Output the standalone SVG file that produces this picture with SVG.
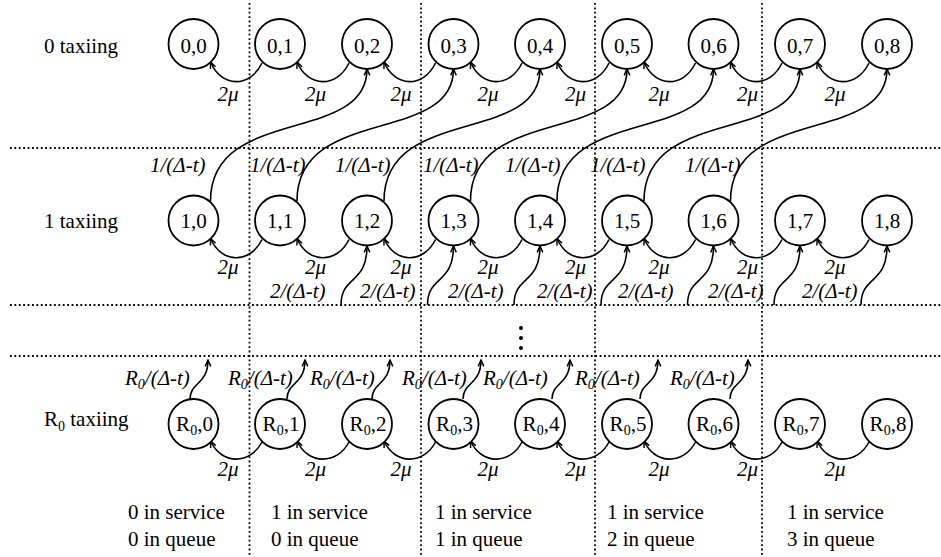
<svg xmlns="http://www.w3.org/2000/svg" width="941" height="557" viewBox="0 0 941 557" font-family="'Liberation Serif', 'Times New Roman', 'DejaVu Serif', serif">
<style>
.t{font-family:'Liberation Serif','Times New Roman','DejaVu Serif',serif;font-size:21px;fill:#000}
.i{font-style:italic}
.m{text-anchor:middle}
.node circle{fill:#fff;stroke:#000;stroke-width:1.8}
.c{fill:none;stroke:#000;stroke-width:1.6;marker-end:url(#ah)}
.d{fill:none;stroke:#000;stroke-width:1.8;stroke-dasharray:1.8 2.6}
</style>
<defs>
<marker id="ah" viewBox="0 0 10 10" refX="9" refY="5" markerWidth="8" markerHeight="8" orient="auto" markerUnits="userSpaceOnUse">
<path d="M1,1.5 L9,5 L1,8.5" fill="none" stroke="#000" stroke-width="1.8"/>
</marker>
</defs>
<rect width="941" height="557" fill="#fff"/>
<g id="grid">
<line class="d" x1="249.5" y1="3" x2="249.5" y2="557"/>
<line class="d" x1="421" y1="3" x2="421" y2="557"/>
<line class="d" x1="595" y1="3" x2="595" y2="557"/>
<line class="d" x1="762" y1="3" x2="762" y2="557"/>
<line class="d" x1="10" y1="148" x2="941" y2="148"/>
<line class="d" x1="10" y1="305" x2="941" y2="305"/>
<line class="d" x1="10" y1="356" x2="941" y2="356"/>
<circle cx="521" cy="328" r="2"/>
<circle cx="521" cy="338" r="2"/>
<circle cx="521" cy="348" r="2"/>
</g>
<g id="row-labels" class="t" font-family="'Liberation Serif', serif">
<text x="44" y="52.5">0 taxiing</text>
<text x="44" y="227.5">1 taxiing</text>
<text x="44" y="426">R<tspan font-size="14" dy="5">0</tspan><tspan dy="-5"> taxiing</tspan></text>
</g>
<g id="connectors">
<path class="c" d="M262,63 C250,88 221.5,88 210.5,62"/>
<path class="c" d="M349,63 C337,88 308,88 297,62"/>
<path class="c" d="M435.5,63 C423.5,88 395,88 384,62"/>
<path class="c" d="M522,63 C510,88 481.5,88 470.5,62"/>
<path class="c" d="M609,63 C597,88 568,88 557,62"/>
<path class="c" d="M695.5,63 C683.5,88 655,88 644,62"/>
<path class="c" d="M782,63 C770,88 741.5,88 730.5,62"/>
<path class="c" d="M869,63 C857,88 828,88 817,62"/>
<path class="c" d="M262,239.5 C250,264 221.5,264 210.5,238.5"/>
<path class="c" d="M349,239.5 C337,264 308,264 297,238.5"/>
<path class="c" d="M435.5,239.5 C423.5,264 395,264 384,238.5"/>
<path class="c" d="M522,239.5 C510,264 481.5,264 470.5,238.5"/>
<path class="c" d="M609,239.5 C597,264 568,264 557,238.5"/>
<path class="c" d="M695.5,239.5 C683.5,264 655,264 644,238.5"/>
<path class="c" d="M782,239.5 C770,264 741.5,264 730.5,238.5"/>
<path class="c" d="M869,239.5 C857,264 828,264 817,238.5"/>
<path class="c" d="M262,442 C250,465 221.5,465 210.5,441"/>
<path class="c" d="M349,442 C337,465 308,465 297,441"/>
<path class="c" d="M435.5,442 C423.5,465 395,465 384,441"/>
<path class="c" d="M522,442 C510,465 481.5,465 470.5,441"/>
<path class="c" d="M609,442 C597,465 568,465 557,441"/>
<path class="c" d="M695.5,442 C683.5,465 655,465 644,441"/>
<path class="c" d="M782,442 C770,465 741.5,465 730.5,441"/>
<path class="c" d="M869,442 C857,465 828,465 817,441"/>
<path class="c" d="M210.5,201 C210.5,105 367,145 367,69"/>
<path class="c" d="M297,201 C297,105 453.5,145 453.5,69"/>
<path class="c" d="M384,201 C384,105 540,145 540,69"/>
<path class="c" d="M470.5,201 C470.5,105 627,145 627,69"/>
<path class="c" d="M557,201 C557,105 713.5,145 713.5,69"/>
<path class="c" d="M644,201 C644,105 800,145 800,69"/>
<path class="c" d="M730.5,201 C730.5,105 887,145 887,69"/>
<path class="c" d="M341,305 C341,275 367,285 367,246"/>
<path class="c" d="M427.5,305 C427.5,275 453.5,285 453.5,246"/>
<path class="c" d="M514,305 C514,275 540,285 540,246"/>
<path class="c" d="M601,305 C601,275 627,285 627,246"/>
<path class="c" d="M687.5,305 C687.5,275 713.5,285 713.5,246"/>
<path class="c" d="M774,305 C774,275 800,285 800,246"/>
<path class="c" d="M861,305 C861,275 887,285 887,246"/>
<path class="c" d="M190,399 C190,382 208,385 208,360"/>
<path class="c" d="M287,399 C287,382 305,385 305,360"/>
<path class="c" d="M372,399 C372,382 390,385 390,360"/>
<path class="c" d="M463,399 C463,382 481,385 481,360"/>
<path class="c" d="M552,399 C552,382 570,385 570,360"/>
<path class="c" d="M640,399 C640,382 658,385 658,360"/>
<path class="c" d="M730,399 C730,382 748,385 748,360"/>
</g>
<g id="edge-labels" class="t i">
<g class="m">
<text x="228" y="100.5">2μ</text><text x="315.5" y="100.5">2μ</text><text x="401" y="100.5">2μ</text><text x="488" y="100.5">2μ</text><text x="575.5" y="100.5">2μ</text><text x="659" y="100.5">2μ</text><text x="747.5" y="100.5">2μ</text><text x="835" y="100.5">2μ</text>
<text x="228" y="274">2μ</text><text x="315.5" y="274">2μ</text><text x="401" y="274">2μ</text><text x="488" y="274">2μ</text><text x="575.5" y="274">2μ</text><text x="659" y="274">2μ</text><text x="747.5" y="274">2μ</text><text x="835" y="274">2μ</text>
<text x="228" y="476">2μ</text><text x="315.5" y="476">2μ</text><text x="401" y="476">2μ</text><text x="488" y="476">2μ</text><text x="575.5" y="476">2μ</text><text x="659" y="476">2μ</text><text x="747.5" y="476">2μ</text><text x="835" y="476">2μ</text>
</g>
<text x="150" y="172">1/(Δ-t)</text><text x="250" y="172">1/(Δ-t)</text><text x="335" y="172">1/(Δ-t)</text><text x="423" y="172">1/(Δ-t)</text><text x="505" y="172">1/(Δ-t)</text><text x="590" y="172">1/(Δ-t)</text><text x="685" y="172">1/(Δ-t)</text>
<text x="270" y="298">2/(Δ-t)</text><text x="360" y="298">2/(Δ-t)</text><text x="448" y="298">2/(Δ-t)</text><text x="537" y="298">2/(Δ-t)</text><text x="618" y="298">2/(Δ-t)</text><text x="708" y="298">2/(Δ-t)</text><text x="802" y="298">2/(Δ-t)</text>
<text x="125" y="385">R<tspan font-size="14" dy="4">0</tspan><tspan dy="-4">/(Δ-t)</tspan></text>
<text x="228" y="385">R<tspan font-size="14" dy="4">0</tspan><tspan dy="-4">/(Δ-t)</tspan></text>
<text x="310" y="385">R<tspan font-size="14" dy="4">0</tspan><tspan dy="-4">/(Δ-t)</tspan></text>
<text x="402" y="385">R<tspan font-size="14" dy="4">0</tspan><tspan dy="-4">/(Δ-t)</tspan></text>
<text x="483" y="385">R<tspan font-size="14" dy="4">0</tspan><tspan dy="-4">/(Δ-t)</tspan></text>
<text x="575" y="385">R<tspan font-size="14" dy="4">0</tspan><tspan dy="-4">/(Δ-t)</tspan></text>
<text x="670" y="385">R<tspan font-size="14" dy="4">0</tspan><tspan dy="-4">/(Δ-t)</tspan></text>
</g>
<g id="nodes" class="t">
<g id="n0_0" class="node"><circle cx="193.5" cy="44" r="25"/><text class="m" x="193.5" y="52.5">0,0</text></g>
<g id="n0_1" class="node"><circle cx="280" cy="44" r="25"/><text class="m" x="280" y="52.5">0,1</text></g>
<g id="n0_2" class="node"><circle cx="367" cy="44" r="25"/><text class="m" x="367" y="52.5">0,2</text></g>
<g id="n0_3" class="node"><circle cx="453.5" cy="44" r="25"/><text class="m" x="453.5" y="52.5">0,3</text></g>
<g id="n0_4" class="node"><circle cx="540" cy="44" r="25"/><text class="m" x="540" y="52.5">0,4</text></g>
<g id="n0_5" class="node"><circle cx="627" cy="44" r="25"/><text class="m" x="627" y="52.5">0,5</text></g>
<g id="n0_6" class="node"><circle cx="713.5" cy="44" r="25"/><text class="m" x="713.5" y="52.5">0,6</text></g>
<g id="n0_7" class="node"><circle cx="800" cy="44" r="25"/><text class="m" x="800" y="52.5">0,7</text></g>
<g id="n0_8" class="node"><circle cx="887" cy="44" r="25"/><text class="m" x="887" y="52.5">0,8</text></g>
<g id="n1_0" class="node"><circle cx="193.5" cy="220.5" r="25"/><text class="m" x="193.5" y="228">1,0</text></g>
<g id="n1_1" class="node"><circle cx="280" cy="220.5" r="25"/><text class="m" x="280" y="228">1,1</text></g>
<g id="n1_2" class="node"><circle cx="367" cy="220.5" r="25"/><text class="m" x="367" y="228">1,2</text></g>
<g id="n1_3" class="node"><circle cx="453.5" cy="220.5" r="25"/><text class="m" x="453.5" y="228">1,3</text></g>
<g id="n1_4" class="node"><circle cx="540" cy="220.5" r="25"/><text class="m" x="540" y="228">1,4</text></g>
<g id="n1_5" class="node"><circle cx="627" cy="220.5" r="25"/><text class="m" x="627" y="228">1,5</text></g>
<g id="n1_6" class="node"><circle cx="713.5" cy="220.5" r="25"/><text class="m" x="713.5" y="228">1,6</text></g>
<g id="n1_7" class="node"><circle cx="800" cy="220.5" r="25"/><text class="m" x="800" y="228">1,7</text></g>
<g id="n1_8" class="node"><circle cx="887" cy="220.5" r="25"/><text class="m" x="887" y="228">1,8</text></g>
<g id="nR_0" class="node"><circle cx="193.5" cy="424" r="25"/><text class="m" x="194.5" y="430.5">R<tspan font-size="14" dy="4">0</tspan><tspan dy="-4">,0</tspan></text></g>
<g id="nR_1" class="node"><circle cx="280" cy="424" r="25"/><text class="m" x="281" y="430.5">R<tspan font-size="14" dy="4">0</tspan><tspan dy="-4">,1</tspan></text></g>
<g id="nR_2" class="node"><circle cx="367" cy="424" r="25"/><text class="m" x="368" y="430.5">R<tspan font-size="14" dy="4">0</tspan><tspan dy="-4">,2</tspan></text></g>
<g id="nR_3" class="node"><circle cx="453.5" cy="424" r="25"/><text class="m" x="454.5" y="430.5">R<tspan font-size="14" dy="4">0</tspan><tspan dy="-4">,3</tspan></text></g>
<g id="nR_4" class="node"><circle cx="540" cy="424" r="25"/><text class="m" x="541" y="430.5">R<tspan font-size="14" dy="4">0</tspan><tspan dy="-4">,4</tspan></text></g>
<g id="nR_5" class="node"><circle cx="627" cy="424" r="25"/><text class="m" x="628" y="430.5">R<tspan font-size="14" dy="4">0</tspan><tspan dy="-4">,5</tspan></text></g>
<g id="nR_6" class="node"><circle cx="713.5" cy="424" r="25"/><text class="m" x="714.5" y="430.5">R<tspan font-size="14" dy="4">0</tspan><tspan dy="-4">,6</tspan></text></g>
<g id="nR_7" class="node"><circle cx="800" cy="424" r="25"/><text class="m" x="801" y="430.5">R<tspan font-size="14" dy="4">0</tspan><tspan dy="-4">,7</tspan></text></g>
<g id="nR_8" class="node"><circle cx="887" cy="424" r="25"/><text class="m" x="888" y="430.5">R<tspan font-size="14" dy="4">0</tspan><tspan dy="-4">,8</tspan></text></g>
</g>
<g id="column-labels" class="t">
<text x="128" y="519">0 in service</text><text x="128" y="545.5">0 in queue</text>
<text x="271" y="519">1 in service</text><text x="271" y="545.5">0 in queue</text>
<text x="435" y="519">1 in service</text><text x="435" y="545.5">1 in queue</text>
<text x="607" y="519">1 in service</text><text x="607" y="545.5">2 in queue</text>
<text x="787" y="519">1 in service</text><text x="787" y="545.5">3 in queue</text>
</g>
</svg>
